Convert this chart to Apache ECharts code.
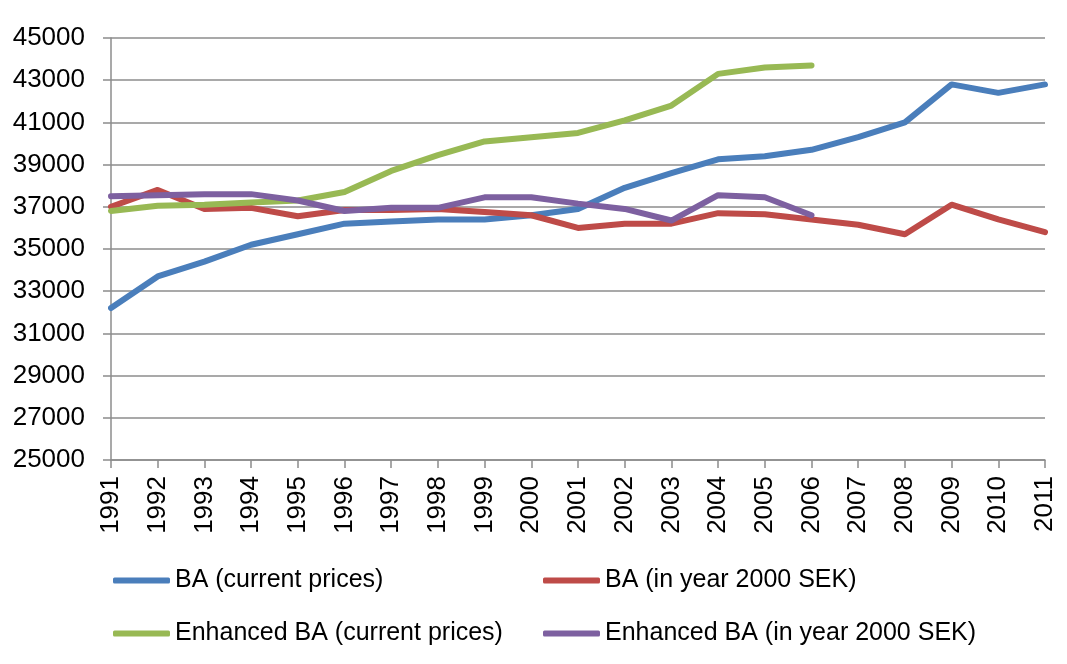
<!DOCTYPE html>
<html>
<head>
<meta charset="utf-8">
<script src="https://cdn.jsdelivr.net/npm/echarts@6/dist/echarts.min.js"></script>
<style>
  html, body { margin: 0; padding: 0; background: #fff; }
  #chart { width: 1067px; height: 664px; }
</style>
</head>
<body>
<div id="chart"></div>
<script>
    // years on the category axis
    const years = ['1991', '1992', '1993', '1994', '1995', '1996', '1997', '1998', '1999', '2000',
        '2001', '2002', '2003', '2004', '2005', '2006', '2007', '2008', '2009', '2010', '2011'];

    const baCurrent = [32200, 33700, 34400, 35200, 35700, 36200, 36300, 36400, 36400, 36600,
        36900, 37900, 38600, 39250, 39400, 39700, 40300, 41000, 42800, 42400, 42800];
    const baSek2000 = [37000, 37800, 36900, 36950, 36550, 36850, 36850, 36900, 36750, 36600,
        36000, 36200, 36200, 36700, 36650, 36400, 36150, 35700, 37100, 36400, 35800];
    const enhCurrent = [36800, 37050, 37100, 37200, 37300, 37700, 38700, 39450, 40100, 40300,
        40500, 41100, 41800, 43300, 43600, 43700, null, null, null, null, null];
    const enhSek2000 = [37500, 37550, 37600, 37600, 37300, 36800, 36950, 36950, 37450, 37450,
        37150, 36900, 36350, 37550, 37450, 36600, null, null, null, null, null];

    const names = ['BA (current prices)', 'BA (in year 2000 SEK)',
        'Enhanced BA (current prices)', 'Enhanced BA (in year 2000 SEK)'];
    const colors = ['#4a7ebb', '#be4b48', '#98b954', '#7d60a0'];

    const font = "'Liberation Sans', Arial, sans-serif";
    const gridColor = '#8c8c8c';

    function legendAt(name, left, top) {
        return {
            data: [name],
            left: left,
            top: top,
            icon: 'roundRect',
            itemWidth: 57,
            itemHeight: 6,
            selectedMode: false,
            textStyle: { fontFamily: font, fontSize: 25, color: '#000', padding: [0, 0, 0, 0] }
        };
    }

    function lineSeries(i, data) {
        return {
            name: names[i],
            type: 'line',
            data: data,
            showSymbol: false,
            symbol: 'none',
            connectNulls: false,
            lineStyle: { width: 6, color: colors[i], cap: 'round', join: 'round' },
            itemStyle: { color: colors[i] }
        };
    }

    const option = {
        animation: false,
        backgroundColor: '#fff',
        legend: [
            legendAt(names[0], 108, 563),
            legendAt(names[1], 538, 563),
            legendAt(names[2], 108, 616),
            legendAt(names[3], 538, 616)
        ],
        grid: {
            left: 111,
            right: 22,
            top: 38,
            bottom: 204,
            containLabel: false
        },
        xAxis: {
            type: 'category',
            boundaryGap: false,
            data: years,
            axisLine: { lineStyle: { color: gridColor, width: 1.5 } },
            axisTick: { show: true, length: 8, lineStyle: { color: gridColor, width: 1.5 } },
            axisLabel: {
                rotate: 90,
                margin: 16,
                interval: 0,
                fontFamily: font,
                fontSize: 26,
                color: '#000'
            },
            splitLine: { show: false }
        },
        yAxis: {
            type: 'value',
            min: 25000,
            max: 45000,
            interval: 2000,
            axisLine: { show: true, lineStyle: { color: gridColor, width: 1.5 } },
            axisTick: { show: true, length: 8, lineStyle: { color: gridColor, width: 1.5 } },
            axisLabel: {
                margin: 26,
                fontFamily: font,
                fontSize: 26,
                color: '#000',
                formatter: function (v) { return String(v); }
            },
            splitLine: { show: true, lineStyle: { color: gridColor, width: 1.5 } }
        },
        series: [
            lineSeries(0, baCurrent),
            lineSeries(1, baSek2000),
            lineSeries(2, enhCurrent),
            lineSeries(3, enhSek2000)
        ]
    };

    let myChart = echarts.init(document.getElementById('chart'));
    myChart.setOption(option);
</script>
</body>
</html>
